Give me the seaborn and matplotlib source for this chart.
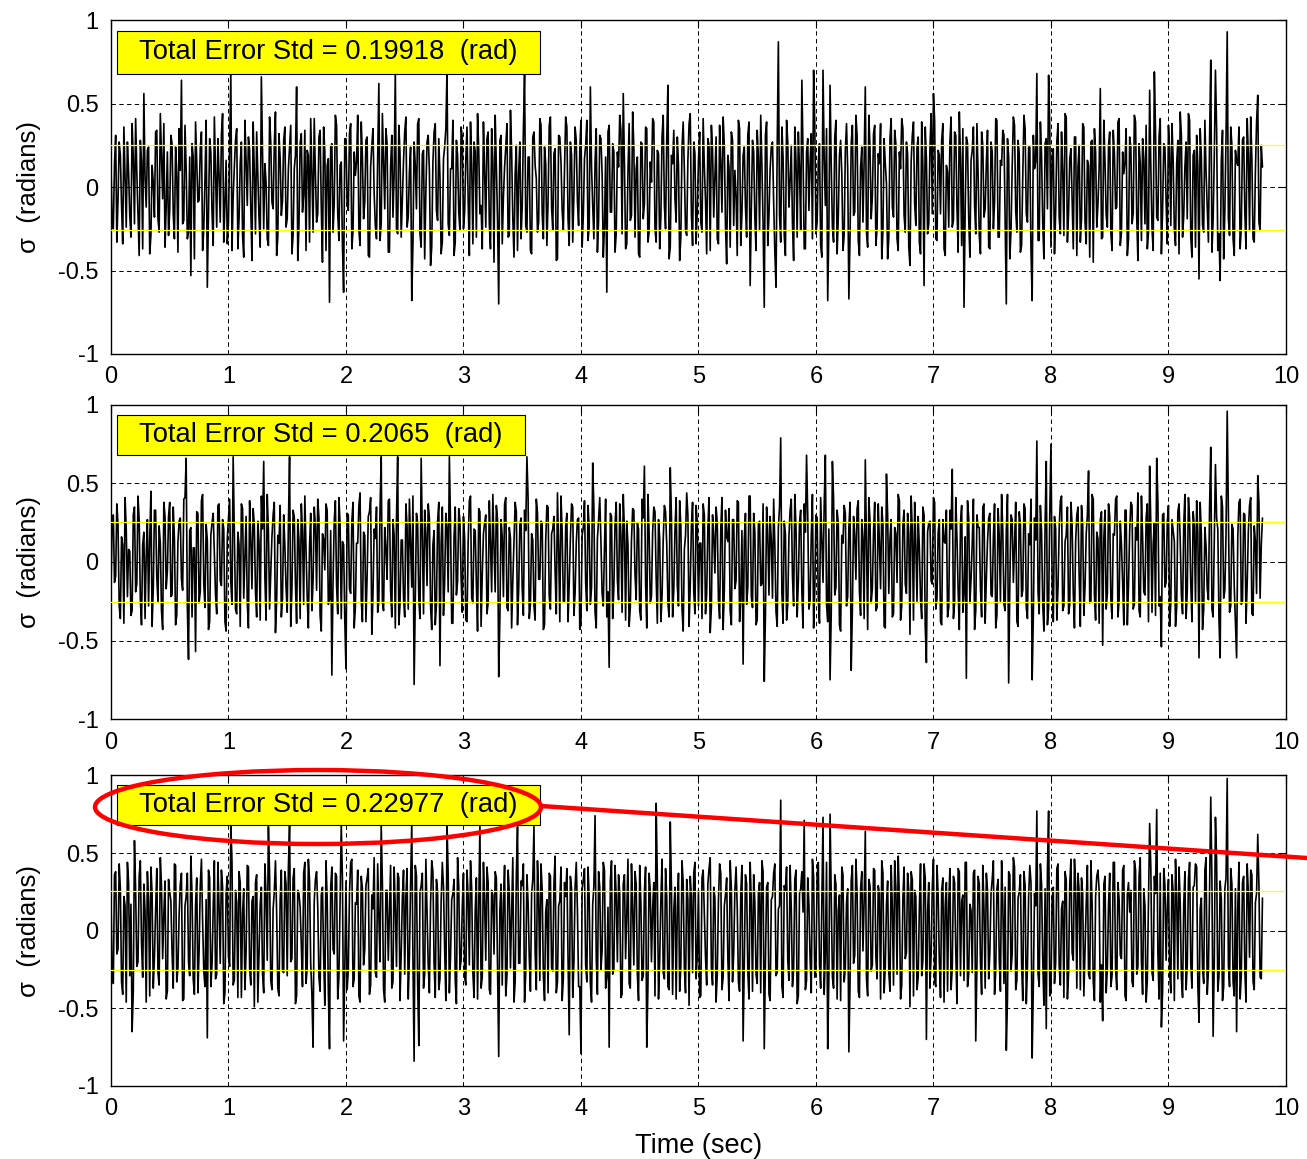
import numpy as np
import matplotlib
matplotlib.use("Agg")
import matplotlib.pyplot as plt
from matplotlib.patches import Ellipse, Rectangle
from matplotlib.lines import Line2D
import seaborn as sns

# -------------------------------
# Data (in centiradians)
# *_crad   : samples at t = 0, 0.02, 0.04, ...
# *_half   : samples in between, at t = 0.01, 0.03, ...
# -------------------------------
dt = 0.01

err_top_crad = [
    12, -25, 31, -8, 19, -34, 5, 27, -17, 38, -22, 9, -41, 15, 56, -12, 24, -29, 3, 33, -19, 44, -7, -36, 21,
    -14, 26, -31, 8, 35, 64, -20, 11, -27, -53, 18, 39, -9, 23, -38, 4, -60, 29, -15, 42, -24, 7, 31, -33, 16,
    -21, 68, -6, 28, -37, 14, -29, 40, -11, 22, -44, 9, 33, -18, 66, -25, 3, -35, 27, -13, 45, -30, 17, -8, 36,
    -19, 24, -40, 11, 60, -23, 32, -5, -38, 19, 41, -27, 8, -16, 34, -45, 21, 13, -69, 26, -10, 37, -32, 15, -63,
    29, -14, 38, -26, 7, 43, -35, 18, -9, 30, -42, 25, -4, -31, 62, -22, 16, 35, -39, 12, -18, 70, -28, 20, -7,
    33, -24, 9, -68, 27, -13, 41, -36, 22, -3, 31, -47, 15, 38, -20, 6, -33, 24, 70, -29, 11, -41, 28, -15, 36,
    -25, 17, -8, 39, -34, 21, 44, -16, -37, 10, 29, -22, 35, -45, 13, -70, 31, -6, 24, -30, 46, -19, 8, -38, 27,
    -12, 69, -27, 18, -40, 33, 5, -21, 37, -31, 14, -9, 42, -26, 23, -43, 30, -14, 11, 36, -35, 19, -4, 28, -23,
    40, -17, 25, -32, 60, -11, 15, -39, 31, 8, -24, -63, 37, -15, 21, -28, 12, 34, 56, -37, 9, -20, 45, -30, 18,
    -42, 26, -10, 35, -27, 3, 39, -33, 20, -18, 43, -25, 61, -36, 14, -7, 30, -44, 24, 10, -29, 38, -16, 27, -34,
    16, -21, 41, -8, 29, -38, 22, 6, -31, 37, -15, 25, -46, 12, 33, -23, -5, 40, -35, 19, -12, 31, -59, 28, -19,
    34, -26, 13, -72, 39, -17, 24, -9, -60, 87, -33, 18, -41, 27, 4, -22, 36, -30, 11, 64, -37, 21, -14, 32, 70,
    -28, 15, -35, 70, -11, -68, 61, -24, 30, -40, 19, 8, -29, 38, -67, 26, -17, 43, -32, 12, -21, 60, -36, 23, -6,
    37, -25, 14, -43, 29, 2, -30, 41, -18, 26, -38, 11, 35, -27, 20, -47, 31, -10, 24, -33, 39, -59, 17, -22, 44,
    56, -31, 22, -16, 38, -41, 9, 27, -24, 33, -12, 45, -35, -72, 30, -19, 16, 36, -28, 7, -40, 25, -13, 34, -37,
    21, -9, 40, -30, 13, 31, -70, 18, -26, 42, -14, 28, -39, 6, 35, -21, 24, -68, 11, 68, -32, 19, -43, 29, 67,
    -36, 23, -15, 38, -28, 10, 44, -33, 17, -7, 30, -41, 25, -19, 36, -34, 13, 27, -45, 21, -10, 59, -30, 15, -24,
    33, -38, 20, -12, 41, -27, 8, 35, -31, 24, -16, 39, -44, 14, 29, -22, -37, 58, -25, 69, -18, 30, -40, 26, -9,
    37, -23, 16, -35, 28, 45, -30, 12, -19, 40, -42, 22, 31, -55, 18, -27, 9, -33, 76, -20, 70, -38, -56, 34, -14,
    93, -29, 25, -41, 15, 36, -24, 30, -37, 19, 42, -31, 10, 55, -26, 12,
]
err_top_half = [
    -20, 14, -33, 27, -11, 36, -24, 9, -30, 17, 41, -15, 28, -37, 6, 22, -40, 13, -18, 34, -27, 19, 38, -12, -29,
    31, -16, 24, -39, 10, -22, 37, -31, 18, 26, -43, 15, -8, 33, -25, 40, -14, 21, -35, 8, 29, -21, 44, -10, -34,
    23, -38, 12, 35, -19, 27, -42, 16, 30, -13, 39, -28, 7, -36, 20, 14, -31, 42, -9, 25, -41, 32, -17, 28, -24,
    11, 37, -29, 19, -44, 26, -15, 34, 22, -33, 9, 41, -21, 30, -12, 36, -38, 17, 24, -27, 43, -16, 13, -35, 29,
    -10, 32, -37, 21, 15, -26, 39, -19, 28, -41, 12, 35, -23, 18, -32, 44, -13, 26, -39, 31, 8, -25, 37, -30, 16,
    42, -18, 24, -34, 13, 38, -28, 20, -43, 27, 10, -36, 33, -14, 29, -40, 17, 35, -22, 11, 40, -33, 19, -26, 30,
    -15, 36, -41, 14, 27, -30, 22, -11, 39, -24, 33, -37, 16, 43, -20, 28, -34, 12, 38, -29, 21, -42, 25, 9, -31,
    34, -23, 18, -38, 30, 13, -27, 41, -16, 24, -35, 37, -12, 20, -44, 31, 15, -26, 42, -19, 27, -33, 36, -9, 22,
    -36, 17, 40, -24, 12, -31, 35, -20, 29, -42, 18, 33, -15, 26, -39, 21, 43, -28, 14, -34, 38, -17, 24, 11, -40,
    27, -19, 36, -33, 15, 41, -25, 22, -37, 30, -11, 28, -43, 19, 34, -21, 13, -30, 39, -26, 16, 44, -35, 20, -14,
    33, -27, 12, -40, 25, 37, -18, 30, -34, 14, 42, -23, 19, -36, 28, 10, -41, 35, -16, 24, -30, 39, -13, 21, -38,
    18, 43, -22, 31, -35, 11, 27, -39, 23, -17, 36, -29, 40, -12, 25, -44, 16, 33, -26, 20, -37, 29, 14, -31, 38,
    -21, 26, -42, 17, 35, -24, 13, -33, 40, -18, 28, -38, 22, 11, -30, 37, -15, 31, -41, 24, 16, -27, 43, -19, 32,
    -35, 20, 38, -26, 14, -43, 29, -12, 34, -31, 21, 41, -17, 27, -36, 15, 39, -23, 30, -40, 12, 36, -28, 23, -16,
    40, -32, 19, 28, -37, 13, -24, 42, -20, 31, -39, 17, 35, -14, 26, -42, 22, -11, 38, -29, 33, -18, 14, -36, 27,
    -25, 41, -30, 16, 34, -21, 29, -43, 12, 37, -27, 20, -35, 43, -16, 24, -38, 31, 15, -32, 39, -22, 26, -13, 35,
    19, -40, 27, -18, 33, -29, 42, -15, 23, -37, 30, 12, -33, 38, -21, 16, -42, 28, 35, -24, 11, -31, 40, -17, 25,
    -28, 34, -13, 39, -35, 21, 15, -41, 30, -22, 43, -18, 26, -32, 17, 37, -27, 12, -38, 33, -20, 41, -14, 24, -34,
    22, 38, -25, 14, -40, 31, -17, 27, 44, -30, 19, -36, 13, 35, -23, 40, -12, 29, -39, 18, 34, -28, 16, -43, 30,
    -19, 36, -31, 22, 13, -37, 28, -15, 41, -26, 17, -33, 39, -21, 25,
]

err_mid_crad = [
    -18, 30, -9, 24, -36, 11, 41, -22, 7, -31, 35, -14, 27, -40, 19, 4, -28, 45, -17, 33, -25, 12, -43, 29, -6,
    38, -21, 15, -34, 26, -11, 40, 66, -62, 22, 9, -57, 31, -19, 43, -29, 14, -38, 25, 6, -33, 37, -15, 21, -44,
    28, -13, 67, -30, 19, -41, 34, 3, -26, 39, -17, 24, -35, 13, 42, 64, -37, 20, -8, 30, -45, 17, 36, -23, 10,
    -32, 67, -18, 29, -39, 14, 37, -27, 8, -42, 31, -12, 23, 40, -34, 18, -5, 33, -24, -72, 26, -15, 41, -36, 11,
    -68, 30, -20, 38, -29, 12, 44, -38, 17, -9, 32, -46, 21, 35, -25, 67, -31, 9, 39, -18, 27, -42, 67, -27, 14,
    -35, 23, 40, -16, -78, 31, -24, 66, -33, 18, 37, -28, 11, -40, 26, -66, 35, -13, 22, 67, -39, 16, -21, 34, -10,
    29, -37, 13, 42, -26, 20, -44, 32, -8, 25, -33, 39, -19, 10, 36, -73, 27, -22, 41, -31, 15, -12, 38, -40, 24,
    -17, 33, 67, -36, 18, -28, 40, -11, 26, -43, 14, 35, -30, 21, -6, 44, -38, 19, -25, 31, -14, 37, -34, 12, 28,
    -39, 22, -13, 36, -27, 63, -32, 15, 41, -20, 9, -35, -67, 29, -16, 38, -24, 17, 43, -37, 11, -29, 34, -8, 25,
    -31, 40, 61, -42, 18, -22, 35, -10, 27, -38, 14, 32, -26, 60, -35, 20, -15, 39, -30, 8, 44, -41, 23, -19, 36,
    -28, 12, 37, -33, 21, -45, 30, -7, 25, -36, 41, -18, 16, 34, -40, 27, -12, 38, -23, -65, 31, -16, 42, -29, 19,
    -37, 26, -14, -76, 35, -21, 14, 40, -32, 22, 79, -39, 18, -27, 33, -9, 43, -35, 25, -19, 37, 68, -30, 16, -42,
    30, -24, 41, -13, 68, -38, -75, 64, -21, 33, -40, 17, 36, -28, 22, -69, 29, -11, 39, -34, 15, 65, -43, 26, -17,
    38, -29, 12, 35, -41, 56, -20, 27, -33, 18, 43, -37, 24, -14, 31, -46, 20, 38, -25, 9, -36, 30, -64, 25, -12,
    41, -30, 19, -38, 27, 12, -35, 33, 59, -26, 15, -43, 36, -20, -74, 28, -11, 40, -31, 22, -17, 35, -39, 13, 31,
    -22, 37, -34, 16, 43, -27, 20, -77, 30, -13, 38, -41, 24, -18, 34, -36, 11, -75, 28, 77, -33, 19, -44, 64, -29,
    75, -38, 21, -16, 39, -31, 13, 35, -27, 24, -42, 30, -9, 36, -34, 18, 58, -25, 40, -37, 15, 27, -53, 33, -20,
    29, -36, 17, 42, -24, 11, -40, 33, -15, 38, -30, 22, 44, -35, 16, -21, 37, 61, -32, 25, 66, -28, -54, 31, -13,
    36, -26, 20, -41, 32, 14, -33, 43, -19, 27, -38, 23, 39, -61, 17, -30, 10, -24, 73, -35, 62, 21, -61, 35, -18,
    96, -32, 24, -16, -61, 38, -27, 31, -39, 20, 41, -34, 13, 55, -23, 28,
]
err_mid_half = [
    25, -13, 37, -28, 16, -39, 21, 8, -34, 30, -19, 42, -24, 11, -36, 27, 14, -41, 33, -10, 23, -31, 38, -17, 29,
    -22, 35, -40, 13, 28, -18, 41, -29, 20, -35, 9, 32, -26, 39, -14, 24, -43, 17, 31, -21, 36, -12, 27, -38, 15,
    40, -27, 18, -33, 11, 37, -23, 29, -42, 14, 34, -19, 26, -37, 21, -10, 43, -30, 16, 38, -25, 12, -35, 30, -16,
    23, -41, 33, -14, 27, -36, 19, 42, -22, 10, -31, 35, -18, 28, -44, 15, 37, -27, 20, -13, 39, -33, 24, 13, -37,
    31, -17, 26, -42, 12, 36, -24, 19, -38, 29, 41, -20, 15, -32, 34, -26, 22, -11, 40, -35, 17, 28, -40, 14, -23,
    37, -30, 11, 42, -21, 25, -36, 16, 33, -15, 28, -43, 20, -27, 38, 12, -34, 31, -19, 24, -39, 35, -12, 26, -32,
    15, -38, 39, -23, 21, -14, 34, -41, 18, 30, -26, 12, 43, -19, 27, -35, 16, 37, -29, 22, -42, 13, 32, -17, 28,
    -34, 20, 41, -27, 14, -37, 31, -11, 25, -40, 36, -22, 18, 29, -33, 10, 42, -25, 23, -38, 15, 35, -20, 27, -43,
    17, 39, -31, 22, -16, 34, -42, 27, 13, -28, 40, -19, 31, -36, 24, -12, 37, -32, 19, 26, -41, 14, 33, -24, 21,
    -37, 28, -13, 43, -26, 19, 32, -39, 15, -22, 36, 11, -35, 29, -18, 41, -28, 23, -44, 17, 30, -15, 38, -33, 25,
    12, -36, 30, -20, 41, -29, 16, 35, -24, 21, -43, 33, 13, -31, 27, -17, 39, -38, 20, 14, -27, 42, -22, 31, -40,
    24, -15, 37, -34, 18, 29, -23, 11, -41, 35, -20, 26, -37, 16, 40, -28, 22, -12, 33, -42, 19, 30, -25, 43, -18,
    28, -39, 14, 36, -27, 21, -33, 40, -16, 25, -44, 12, 31, -22, 38, -30, 17, 34, -19, 27, -36, 13, 41, -26, 20,
    -31, 37, -17, 24, -42, 30, 15, -35, 22, -13, 39, -28, 33, -20, 18, 42, -37, 11, 29, -24, 35, -41, 19, 26, -14,
    38, -23, 27, -40, 13, 33, -29, 21, -36, 41, -18, 25, -32, 16, 39, -26, 12, -43, 30, 22, -35, 37, -11, 28, -21,
    16, -42, 34, -25, 20, -31, 43, -14, 27, 11, -38, 32, -22, 37, -29, 18, 40, -34, 14, -19, 36, -27, 23, -40, 31,
    -12, 29, -37, 21, 42, -28, 17, -33, 38, -20, 13, 35, -41, 24, -16, 30, -26, 43, -21, 19, -39, 32, 15, -30, 37,
    -24, 18, 40, -35, 26, -13, 33, -40, 20, 36, -27, 14, -31, 42, -19, 28, -38, 23, 11, -34, 39, -22, 30, -16, 25,
    -41, 27, 13, -29, 37, -21, 24, -36, 41, -14, 32, -26, 19, 38, -43, 22, -17, 35, -30, 15, 28, -37, 42, -23, 18,
    34, -28, 21, -39, 16, 40, -25, 30, -14, 36, -33, 23, -20, 38, 11,
]

err_bot_crad = [
    21, -34, 38, -12, 27, -41, 16, 44, -29, -65, 58, -23, 35, -8, 30, -46, 19, 41, -37, 13, -27, 47, -18, 32, -39,
    25, -14, 43, -33, 10, 37, -44, 22, -20, 48, -31, 17, -40, 29, 6, -36, -69, 34, -22, 45, -28, 15, 39, -47, 24,
    -17, 68, -35, 26, -43, 31, 11, -38, 42, -24, 19, -49, 36, -13, 28, -40, 23, 67, -32, 14, 45, -37, 20, -26, 38,
    -29, 69, -18, 40, -42, 24, -9, 37, -34, 46, -21, -75, 33, 15, -39, 28, -48, 21, -76, 41, -15, 35, -30, 68, -71,
    32, -25, 44, -36, 18, 39, -46, 27, -12, 34, -41, 23, 47, -30, 9, 68, -38, 26, -19, 42, -33, 14, 37, -45, 21,
    -28, 40, -16, 69, -84, 35, -74, 29, -37, 46, -22, 17, 38, -43, 25, -31, 44, -12, 69, -40, 20, 33, -47, 28, -19,
    37, -35, 22, 45, -27, 13, -44, 67, -30, 19, 41, -38, 26, -15, 34, -81, 30, 18, -42, 39, -24, 47, -33, 67, -21,
    29, -46, 36, -17, 24, 67, -38, 21, 43, -29, 12, -40, 35, -26, 48, -33, 19, -45, 31, 40, -67, 27, -20, 44, -36,
    -79, 33, -22, 41, -34, 17, 74, -41, 28, -13, 39, -30, -75, 45, -25, 22, 36, -43, 30, -18, 46, -37, 14, 38, -28,
    42, -32, 25, -75, 37, -20, 31, 82, -44, 19, -27, 40, -36, 70, -41, 28, 15, -39, 45, -24, 33, -48, 22, 37, -31,
    26, -42, 39, -17, 30, 47, -35, 21, -28, 43, -38, 16, 34, -45, 27, -14, 41, -33, 24, -71, 36, -26, 44, -39, 18,
    -34, 31, 45, -76, 28, -41, 20, 37, -29, 14, 84, -43, 26, -19, 42, -36, 33, -47, 24, 38, 71, -32, 17, -40, 35,
    -25, 44, -37, 73, -15, -76, 75, -30, 36, -44, 23, 41, -33, 18, -78, 32, -21, 46, -39, 27, -13, 64, -42, 29, -22,
    39, -31, 24, 45, -40, 17, -27, 42, -35, 28, 48, -44, 21, -18, 37, -49, 33, 26, -38, 15, -29, 43, -70, 31, -16,
    46, -36, 23, -43, 34, 16, -39, 40, -24, 31, -47, 38, 19, -32, 44, -28, 13, 37, -71, 35, -20, 42, -37, 26, -14,
    33, -41, 27, -19, 45, -34, -77, 38, -26, 47, -38, 21, 36, -45, 29, -23, 42, -82, 24, 77, -36, 30, -48, -63, 77,
    -40, 28, -21, 43, -35, 19, 38, -44, 30, -14, 46, -37, 25, 34, -42, 17, -28, 45, -33, 22, 39, -46, -58, 35, -24,
    37, -29, 44, -38, 20, -18, 42, -45, 31, 26, -36, 39, -23, 47, -41, 16, -32, 69, -27, 35, 78, -44, -62, 40, -19,
    33, -40, 25, 46, -31, 18, -43, 38, -22, 44, -37, 29, 41, -59, 21, -34, 47, -26, 86, -68, 73, -39, 32, -45, 27,
    98, -36, 30, -42, -65, 44, -28, 35, -46, 24, 39, -33, 18, 62, -30, 21,
]
err_bot_half = [
    -28, 36, -15, 43, -33, 22, -46, 31, 17, -39, 26, -20, 45, -30, 13, 38, -42, 24, -17, 40, -35, 29, 11, -44, 33,
    19, -37, 42, -24, 30, -45, 16, 37, -29, 23, -41, 34, -13, 46, -26, 20, 39, -36, 14, -31, 44, -21, 28, -40, 35,
    -23, 45, -32, 18, 38, -43, 27, -14, 41, -35, 22, 31, -46, 17, -28, 43, -19, 36, -38, 25, 12, -42, 39, -27, 30,
    41, -20, 34, -47, 26, 15, -36, 44, -24, 32, -41, 19, 38, -30, 23, -16, 45, -39, 28, -12, 37, -44, 21, 33, -26,
    -38, 24, 46, -31, 17, -42, 35, -22, 29, 40, -35, 14, -27, 43, -20, 31, -46, 26, 12, -37, 41, -23, 34, -15, 39,
    22, -44, 30, -18, 42, -34, 25, 37, -28, 13, -40, 45, -21, 33, -38, 19, 28, -45, 36, -16, 24, -32, 47, -25, 15,
    -30, 39, -22, 27, -43, 34, 16, -37, 44, -19, 31, -41, 23, 38, -26, 14, -35, 42, -29, 25, 11, -46, 36, -21, 32,
    43, -27, 18, -39, 33, -14, 45, -32, 26, -45, 20, 37, -24, 30, -40, 16, 41, -31, 22, -18, 35, -43, 28, 13, -36,
    27, 40, -33, 21, -46, 29, -17, 38, -25, 44, -37, 15, 32, -28, 42, -20, 24, -41, 36, 11, -34, 43, -22, 30, -45,
    18, -29, 41, -36, 25, 14, -42, 33, -19, 46, -31, 22, -38, 28, 13, -44, 37, -23, 31, -40, 20, 35, -27, 44, -16,
    -43, 34, 12, -35, 40, -24, 28, -46, 19, 37, -30, 23, -17, 45, -33, 26, 15, -39, 42, -21, 30, -44, 18, 36, -28,
    24, -40, 38, -19, 31, -45, 22, 43, -27, 16, -36, 29, 41, -32, 14, -25, 39, -42, 27, 12, -38, 34, -18, 46, -30,
    35, -22, 16, -41, 44, -29, 21, -37, 30, 13, -45, 36, -24, 27, -34, 42, -16, 25, -43, 38, 19, -31, 33, -26, 40,
    -17, 29, -44, 37, -23, 32, -39, 15, 45, -28, 20, -35, 41, -14, 26, 38, -42, 22, -30, 43, -19, 34, 12, -37, 28,
    -33, 42, -20, 26, -46, 31, 18, -38, 35, -13, 40, -29, 23, 44, -36, 17, -27, 39, -22, 30, -41, 14, 37, -31, 24,
    45, -26, 33, -39, 19, 28, -44, 36, -15, 41, -32, 25, -21, 38, -47, 22, 31, -35, 16, -28, 43, -18, 27, 39, -42,
    20, -34, 40, -23, 14, -43, 33, -27, 46, -19, 29, 37, -38, 24, -13, 42, -31, 18, -45, 35, 26, -22, 30, -40, 17,
    -36, 44, -25, 31, -16, 39, -42, 23, 12, -33, 45, -28, 35, -20, 27, -46, 19, 40, -32, 24, -14, 37, -39, 29, 15,
    -27, 36, -45, 22, 41, -30, 17, -38, 33, -21, 28, 43, -35, 14, -24, 39, -41, 26, 31, -19, 45, -29, 20, -36, 34,
    -22, 40, -33, 27, 15, -44, 31, -25, 43, -17, 36, -38, 24, 29, -31,
]

std_values = ["0.19918", "0.2065", "0.22977"]
band_level = 0.255          # yellow +/- lines
x_ticks = list(range(0, 11))
y_ticks = [-1, -0.5, 0, 0.5, 1]
y_tick_labels = ["-1", "-0.5", "0", "0.5", "1"]


def merge_samples(main, half):
    # put the in-between samples back in time order
    n = min(len(main), len(half) + 1)
    out = np.empty(2 * n - 1)
    out[0::2] = main[:n]
    out[1::2] = half[:n - 1]
    return out / 100.0


# -------------------------------
# Style
# -------------------------------
sns.set_style("white")
plt.rcParams["font.family"] = ["Liberation Sans", "DejaVu Sans"]
plt.rcParams["text.color"] = "black"
plt.rcParams["axes.labelcolor"] = "black"

fig = plt.figure(figsize=(13.07, 11.59), dpi=100)

ax_pos = [
    [0.0849, 0.6946, 0.899, 0.288],
    [0.0849, 0.3796, 0.899, 0.271],
    [0.0849, 0.0630, 0.899, 0.268],
]
box_width = [3.60, 3.47, 3.60]
series = [(err_top_crad, err_top_half), (err_mid_crad, err_mid_half), (err_bot_crad, err_bot_half)]

axes = []
for i, (pos, (main, half)) in enumerate(zip(ax_pos, series)):
    ax = fig.add_axes(pos)
    vals = merge_samples(main, half)
    t = np.arange(len(vals)) * dt
    sns.lineplot(x=t, y=vals, ax=ax, color="black", linewidth=1.2,
                 estimator=None, legend=False, zorder=3)

    ax.axhline(band_level, color="#ffff00", lw=0.9, zorder=4)
    ax.axhline(-band_level, color="#ffff00", lw=0.9, zorder=4)

    ax.set_xlim(0, 10)
    ax.set_ylim(-1, 1)
    ax.set_xticks(x_ticks)
    ax.set_xticklabels([str(v) for v in x_ticks])
    ax.set_yticks(y_ticks)
    ax.set_yticklabels(y_tick_labels)
    ax.tick_params(direction="in", length=6, width=0.8, top=True, right=True,
                   labelsize=17, pad=9, colors="black")
    ax.grid(True, color="black", linestyle=(0, (4.5, 3.5)), linewidth=0.7)
    ax.set_axisbelow(True)
    for sp in ax.spines.values():
        sp.set_color("black")
        sp.set_linewidth(1.0)
    ax.set_xlabel("")
    ax.set_ylabel("σ  (radians)", fontsize=18.5, labelpad=12, color="black")

    # yellow label box
    ax.add_patch(Rectangle((0.05, 0.68), box_width[i], 0.255, facecolor="#ffff00",
                           edgecolor="black", lw=0.8, zorder=6))
    ax.text(0.05 + box_width[i] / 2, 0.8075,
            f"Total Error Std = {std_values[i]}  (rad)",
            ha="center", va="center", fontsize=19.7, color="black", zorder=7)
    axes.append(ax)

axes[-1].set_xlabel("Time (sec)", fontsize=19.5, labelpad=9, color="black")

# red highlight around the last box
fig.add_artist(Ellipse((318 / 1307, 1 - 807 / 1159), width=446 / 1307, height=74 / 1159,
                       transform=fig.transFigure, fill=False, edgecolor="red",
                       lw=3.2, zorder=10))
fig.add_artist(Line2D([541 / 1307, 1.0], [1 - 806 / 1159, 1 - 858 / 1159],
                      transform=fig.transFigure, color="red", lw=3.2, zorder=10))

fig.savefig("out.png", dpi=100)
